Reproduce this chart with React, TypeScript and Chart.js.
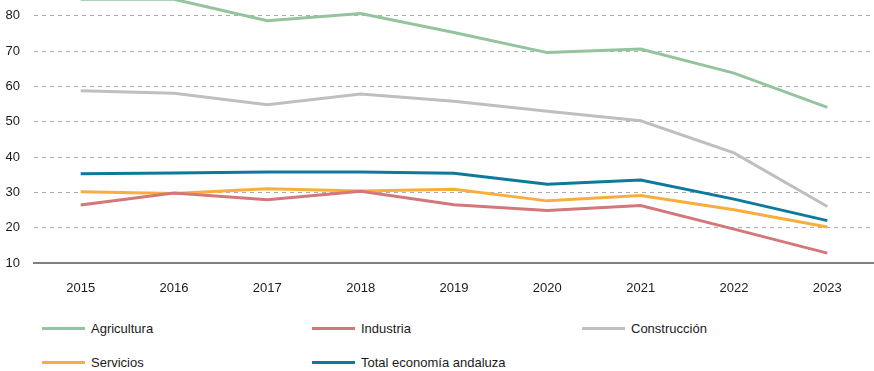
import React, { useEffect, useRef } from "react";
import { Chart, registerables } from "chart.js";

Chart.register(...registerables);

const years = ["2015", "2016", "2017", "2018", "2019", "2020", "2021", "2022", "2023"];
const agricultura = [84.7, 84.7, 78.6, 80.7, 75.3, 69.6, 70.6, 63.8, 54.1];
const industria = [26.4, 29.8, 27.9, 30.3, 26.5, 24.9, 26.3, 19.6, 12.8];
const construccion = [58.8, 58.1, 54.8, 57.9, 55.8, 53.0, 50.3, 41.2, 26.0];
const servicios = [30.2, 29.7, 31.0, 30.4, 30.9, 27.6, 29.1, 25.1, 20.2];
const total = [35.3, 35.5, 35.8, 35.8, 35.4, 32.3, 33.5, 28.1, 22.0];

const seriesNames = ["Agricultura", "Industria", "Construcción", "Servicios", "Total economía andaluza"];
const seriesColors = ["#94c49d", "#d4777a", "#bfbfbf", "#f8ae3c", "#0e7a9b"];
const seriesData = [agricultura, industria, construccion, servicios, total];

const yMin = 10;
const yMax = 84.5;
const yStep = 10;

const FONT = "'Liberation Sans', Arial, Helvetica, sans-serif";

export default function App() {
  const ref = useRef<HTMLCanvasElement | null>(null);

  useEffect(() => {
    document.body.style.margin = "0";
    document.body.style.overflow = "hidden";
    const ctx = ref.current;
    if (!ctx) return;
    const chart = new Chart(ctx, {
      type: "line",
      data: {
        labels: years,
        datasets: seriesNames.map((name, i) => ({
          label: name,
          data: seriesData[i],
          borderColor: seriesColors[i],
          backgroundColor: seriesColors[i],
          borderWidth: 3,
          pointRadius: 0,
          tension: 0,
          fill: false,
        })),
      },
      options: {
        animation: false,
        responsive: false,
        maintainAspectRatio: false,
        layout: { padding: 0 },
        plugins: { legend: { display: false }, tooltip: { enabled: false } },
        scales: {
          x: {
            offset: true,
            grid: { display: false, drawTicks: false },
            border: { display: true, color: "#808080", width: 2 },
            ticks: { color: "#1a1a1a", font: { family: FONT, size: 13 }, padding: 18, maxRotation: 0 },
            afterFit: (axis: any) => {
              axis.height = 37;
            },
          },
          y: {
            min: yMin,
            max: yMax,
            ticks: {
              stepSize: yStep,
              includeBounds: false,
              color: "#1a1a1a",
              font: { family: FONT, size: 13 },
              padding: 14,
            },
            afterFit: (axis: any) => {
              axis.width = 34;
              axis.paddingTop = 0;
            },
            grid: {
              drawTicks: false,
              color: (c: any) => (c.tick && c.tick.value === yMin ? "rgba(0,0,0,0)" : "#acacac"),
              lineWidth: 1,
            },
            border: { display: false, dash: [4, 4] },
          },
        },
      },
    });
    return () => chart.destroy();
  }, []);

  return (
    <div style={{ width: 874, height: 371, position: "relative", overflow: "hidden", fontFamily: FONT }}>
      <canvas ref={ref} width={874} height={300} style={{ display: "block", width: 874, height: 300 }} />
      <div style={{ position: "absolute", top: 300, left: 0, width: 874, height: 71 }}>
        {seriesNames.map((name, i) => {
          const col = i % 3;
          const row = Math.floor(i / 3);
          return (
            <div
              key={name}
              style={{
                position: "absolute",
                left: 42 + col * 270,
                top: 28 + row * 34 - 9,
                height: 18,
                display: "flex",
                alignItems: "center",
                fontSize: 13,
                color: "#1a1a1a",
                whiteSpace: "nowrap",
              }}
            >
              <span style={{ display: "inline-block", width: 43, height: 3, background: seriesColors[i], marginRight: 6 }} />
              {name}
            </div>
          );
        })}
      </div>
    </div>
  );
}
